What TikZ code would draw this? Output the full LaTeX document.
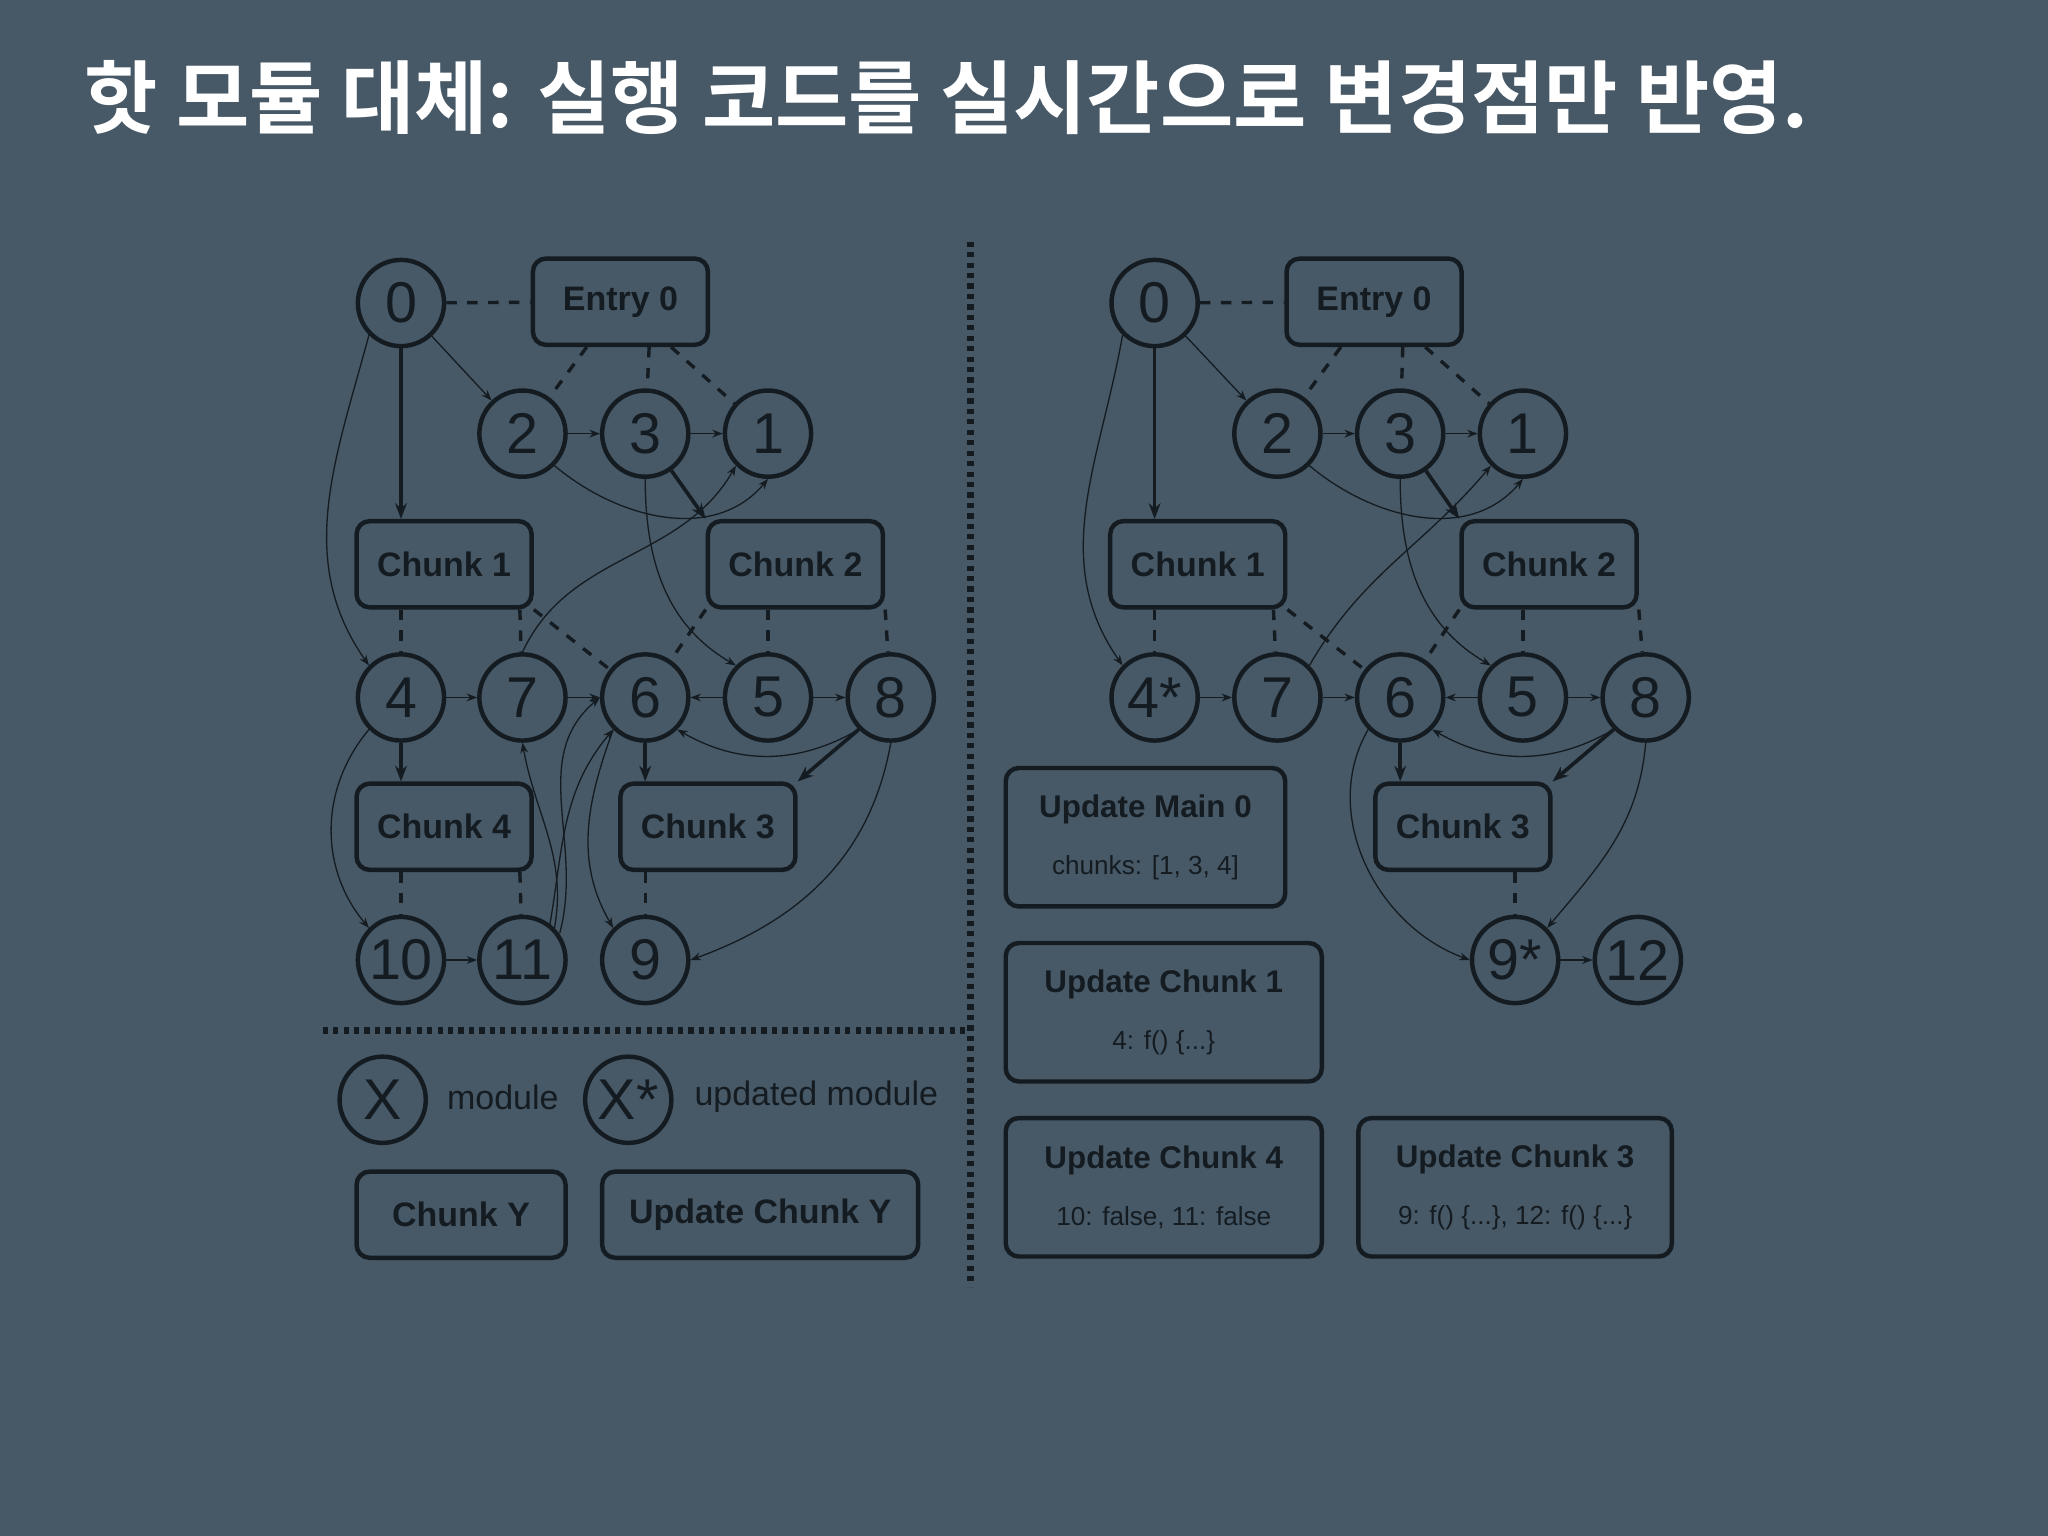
\documentclass[tikz,border=0pt]{standalone}
\usepackage{fontspec}
\setmainfont{Liberation Sans}
\newfontfamily\cjk{Noto Sans CJK KR}[BoldFont={* Bold}]
\usetikzlibrary{arrows.meta}
\definecolor{bg}{HTML}{475866}
\definecolor{ink}{HTML}{141C22}
\newcommand\subtxt{\mdseries\fontsize{10}{10}\selectfont}
\begin{document}
\begin{tikzpicture}[x=0.5pt,y=-0.5pt,
  m/.style={circle,draw=ink,line width=1.7pt,minimum size=33pt,inner sep=0pt,text=ink,font=\fontsize{22}{22}\selectfont},
  ch/.style={rounded corners=5pt,draw=ink,line width=1.7pt,minimum width=67pt,minimum height=33pt,text=ink,font=\bfseries\fontsize{13}{13}\selectfont},
  up/.style={rounded corners=5pt,draw=ink,line width=1.7pt,text=ink,align=center,font=\bfseries\fontsize{12}{12}\selectfont},
  thin/.style={draw=ink,line width=0.5pt,-{Stealth[length=4pt]}},
  thick/.style={draw=ink,line width=1.4pt,-{Stealth[length=6pt]}},
  dsh/.style={draw=ink,line width=1.3pt,dash pattern=on 4pt off 4pt},
  dots/.style={draw=ink,line width=2.5pt,dash pattern=on 2pt off 2pt}]
\fill[bg] (0,0) rectangle (1568,1176);
\useasboundingbox (0,0) rectangle (1568,1176);
\node[anchor=west,text=white,font=\cjk\bfseries\fontsize{30.5}{31}\selectfont] (title) at (58,75) {핫 모듈 대체: 실행 코드를 실시간으로 변경점만 반영.};
% separators
\coordinate (va) at (743,185); \coordinate (vb) at (743,985);
\draw[dots] (va) -- (vb);
\coordinate (ha) at (247,789); \coordinate (hb) at (740,789);
\draw[dots] (ha) -- (hb);
% LEFT
\node[m] (L0) at (307,232) {0};
\node[ch] (LE) at (475,231) {Entry 0};
\node[m] (L2) at (400,332) {2};
\node[m] (L3) at (494,332) {3};
\node[m] (L1) at (588,332) {1};
\node[ch] (LC1) at (340,432) {Chunk 1};
\node[ch] (LC2) at (609,432) {Chunk 2};
\node[m] (L4) at (307,534) {4};
\node[m] (L7) at (400,534) {7};
\node[m] (L6) at (494,534) {6};
\node[m] (L5) at (588,534) {5};
\node[m] (L8) at (682,534) {8};
\node[ch] (LC4) at (340,633) {Chunk 4};
\node[ch] (LC3) at (542,633) {Chunk 3};
\node[m] (L10) at (307,735) {10};
\node[m] (L11) at (400,735) {11};
\node[m] (L9) at (494,735) {9};
\draw[dsh] (L0) -- (LE);
\draw[dsh] (LE) -- (L2); \draw[dsh] (LE.south) ++(22,0) -- (L3); \draw[dsh] (LE) -- (L1);
\draw[thin] (L0) -- (L2); \draw[thin] (L2) -- (L3); \draw[thin] (L3) -- (L1);
\draw[thin] (L2.south east) to[out=-40,in=-130] (L1.south);
\draw[thick] (L0) -- (L0|-LC1.north);
\draw[thick] (L3) -- (LC2.north west);
\draw[thin] (L0.south west) to[out=-105,in=125] (L4.north west);
\draw[dsh] (L4|-LC1.south) -- (L4); \draw[dsh] (LC1.south)++(58,0) -- (L7); \draw[dsh] (LC1.south east) -- (L6);
\draw[dsh] (LC2.south west) -- (L6); \draw[dsh] (L5|-LC2.south) -- (L5); \draw[dsh] (LC2.south east) -- (L8);
\draw[thin] (L7.north) to[out=65,in=-120] (L1.south west);
\draw[thin] (L3.south) to[out=-90,in=150] (L5.north west);
\draw[thin] (L4) -- (L7); \draw[thin] (L7) -- (L6); \draw[thin] (L5) -- (L6); \draw[thin] (L5) -- (L8);
\draw[thin] (L8.south west) to[out=-150,in=-30] (L6.south east);
\draw[thick] (L4) -- (L4|-LC4.north);
\draw[thick] (L6) -- (L6|-LC3.north);
\draw[thick] (L8.south west) -- (LC3.north east);
\draw[thin] (L4.south west) to[out=-130,in=130] (L10.north west);
\draw[dsh] (L10|-LC4.south) -- (L10); \draw[dsh] (LC4.south)++(58,0) -- (L11);
\draw[dsh] (L9|-LC3.south) -- (L9);
\draw[thin] (L10) -- (L11);
\draw[thin] (L11.north east) to[out=80,in=-80] (L7.south);
\draw[thin] (L11.north east)++(-4,0) to[out=80,in=-130] (L6.south west);
\draw[thin] (L11.north east)++(4,4) to[out=75,in=-140] (L6.west);
\draw[thin] (L6.south west) to[out=-110,in=120] (L9.north west);
\draw[thin] (L8.south) to[out=-100,in=20] (L9.east);
% legend
\node[m] (LX) at (293,842) {X};
\node[text=ink,font=\fontsize{13}{13}\selectfont] (LXt) at (385,840) {module};
\node[m] (LXs) at (481,842) {X*};
\node[text=ink,font=\fontsize{13}{13}\selectfont] (LXst) at (625,840) {updated module};
\node[ch,minimum width=80pt] (LY) at (353,930) {Chunk Y};
\node[ch,minimum width=121pt] (LUY) at (582,930) {Update Chunk Y};
% RIGHT
\node[m] (R0) at (884,232) {0};
\node[ch] (RE) at (1052,231) {Entry 0};
\node[m] (R2) at (978,332) {2};
\node[m] (R3) at (1072,332) {3};
\node[m] (R1) at (1166,332) {1};
\node[ch] (RC1) at (917,432) {Chunk 1};
\node[ch] (RC2) at (1186,432) {Chunk 2};
\node[m] (R4) at (884,534) {4*};
\node[m] (R7) at (978,534) {7};
\node[m] (R6) at (1072,534) {6};
\node[m] (R5) at (1166,534) {5};
\node[m] (R8) at (1260,534) {8};
\node[ch] (RC3) at (1120,633) {Chunk 3};
\node[m] (R9) at (1160,735) {9*};
\node[m] (R12) at (1254,735) {12};
\draw[dsh] (R0) -- (RE);
\draw[dsh] (RE) -- (R2); \draw[dsh] (RE.south) ++(22,0) -- (R3); \draw[dsh] (RE) -- (R1);
\draw[thin] (R0) -- (R2); \draw[thin] (R2) -- (R3); \draw[thin] (R3) -- (R1);
\draw[thin] (R2.south east) to[out=-40,in=-130] (R1.south);
\draw[thick] (R0) -- (R0|-RC1.north);
\draw[thick] (R3) -- (RC2.north west);
\draw[thin] (R0.south west) to[out=-100,in=125] (R4.north west);
\draw[dsh] (R4|-RC1.south) -- (R4); \draw[dsh] (RC1.south)++(58,0) -- (R7); \draw[dsh] (RC1.south east) -- (R6);
\draw[dsh] (RC2.south west) -- (R6); \draw[dsh] (R5|-RC2.south) -- (R5); \draw[dsh] (RC2.south east) -- (R8);
\draw[thin] (R7.north east) to[out=60,in=-130] (R1.south west);
\draw[thin] (R3.south) to[out=-90,in=150] (R5.north west);
\draw[thin] (R4) -- (R7); \draw[thin] (R7) -- (R6); \draw[thin] (R5) -- (R6); \draw[thin] (R5) -- (R8);
\draw[thin] (R8.south west) to[out=-150,in=-30] (R6.south east);
\draw[thick] (R6) -- (R6|-RC3.north);
\draw[thick] (R8.south west) -- (RC3.north east);
\draw[dsh] (R9|-RC3.south) -- (R9);
\draw[thin] (R6.south west) to[out=-120,in=160] (R9.west);
\draw[thin] (R8.south) to[out=-95,in=50] (R9.north east);
\draw[thin] (R9) -- (R12);
\node[up,minimum width=107pt,minimum height=53pt] (UM) at (877,641) {Update Main 0\\[10pt]{\subtxt chunks: [1, 3, 4]}};
\node[up,minimum width=121pt,minimum height=53pt] (U1) at (891,775) {Update Chunk 1\\[10pt]{\subtxt 4: f() \{...\}}};
\node[up,minimum width=121pt,minimum height=53pt] (U4) at (891,909) {Update Chunk 4\\[10pt]{\subtxt 10: false, 11: false}};
\node[up,minimum width=120pt,minimum height=53pt] (U3) at (1160,909) {Update Chunk 3\\[10pt]{\subtxt 9: f() \{...\}, 12: f() \{...\}}};
\end{tikzpicture}
\end{document}
